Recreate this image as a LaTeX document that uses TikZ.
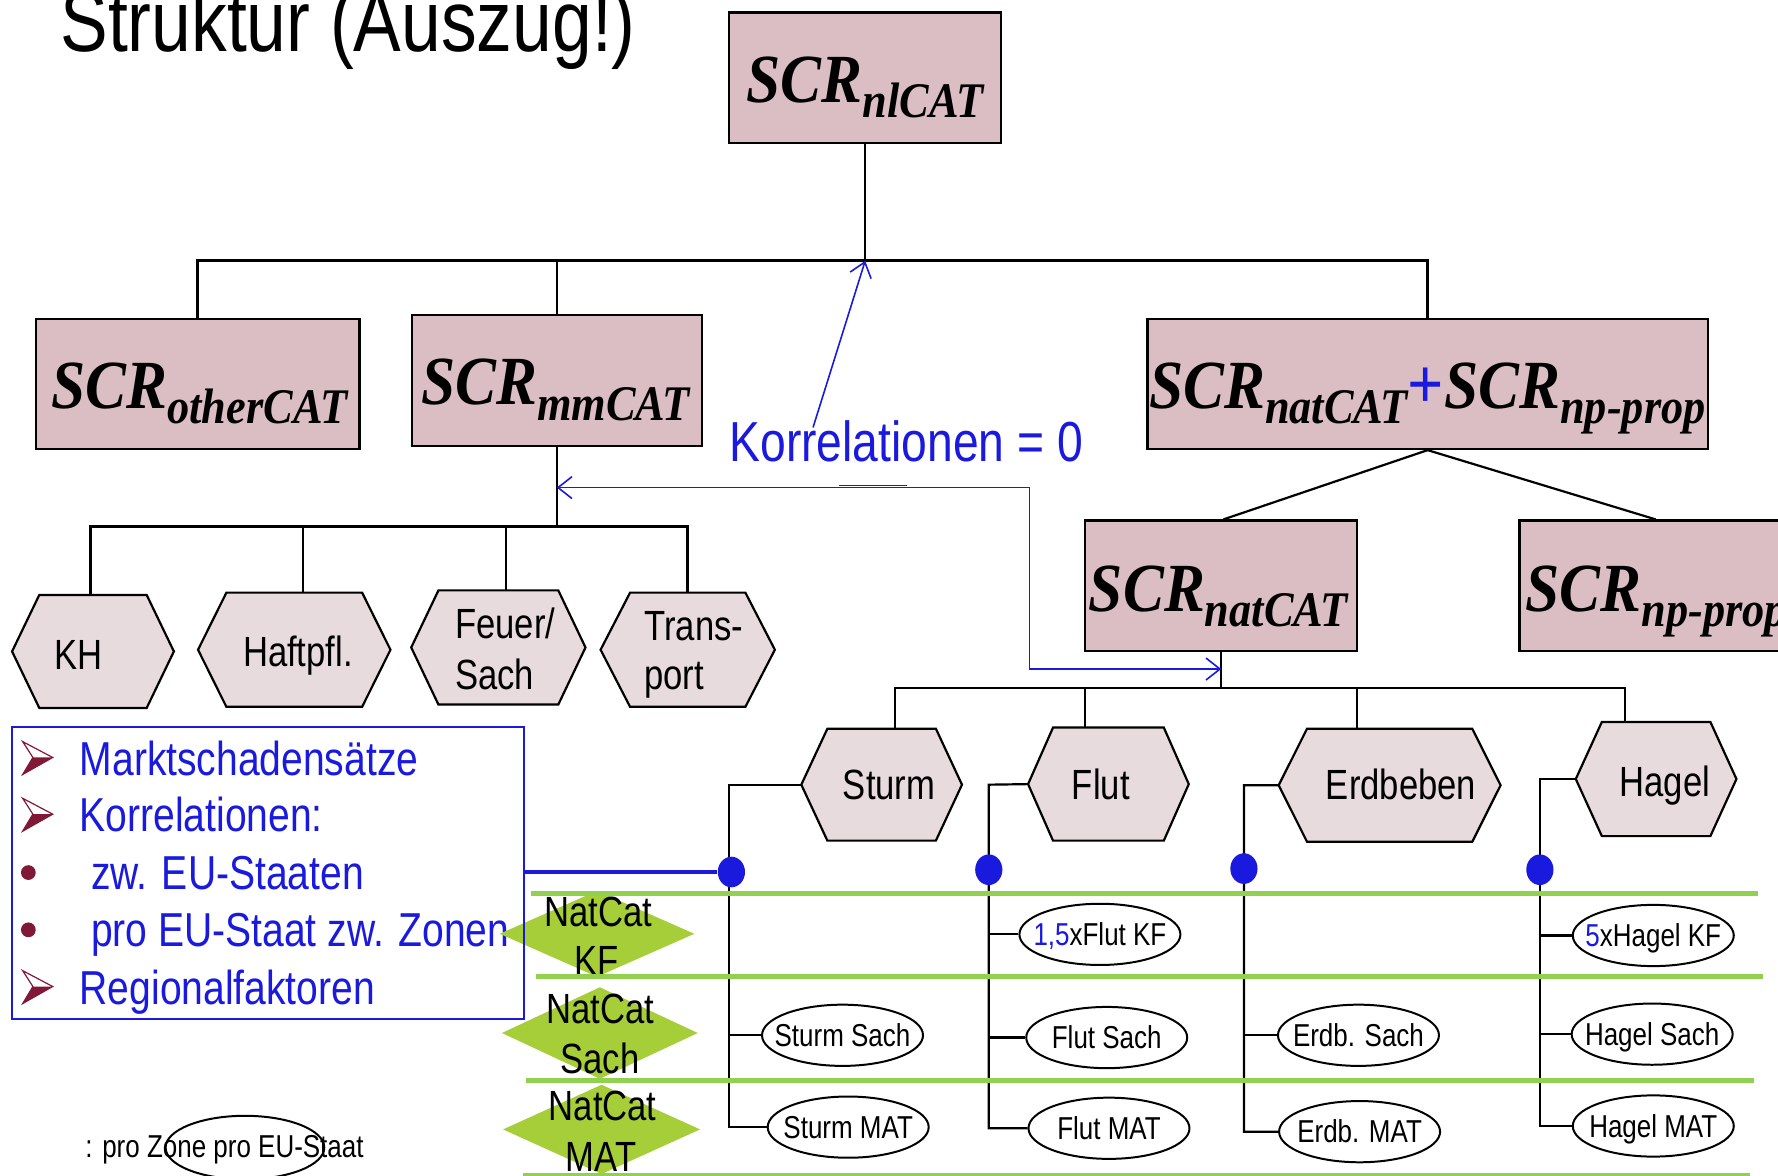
\documentclass[tikz,border=0pt]{standalone}
\usepackage{fontspec}
\setmainfont{Liberation Sans}
\newfontfamily\nar[FakeStretch=0.82]{Liberation Sans}
\newfontfamily\scrf[FakeStretch=0.89]{Liberation Serif}
\usetikzlibrary{arrows.meta,calc,fit,shapes.geometric}

\definecolor{boxfill}{RGB}{219,189,196}
\definecolor{hexfill}{RGB}{232,219,222}
\definecolor{kblue}{RGB}{26,26,222}
\definecolor{lgreen}{RGB}{146,208,80}
\definecolor{dgreen}{RGB}{166,206,57}
\definecolor{bred}{RGB}{128,24,56}

\newcommand\fs[1]{\fontsize{#1}{#1}\selectfont}
% SCR with a lowered subscript
\newcommand\scr[1]{{\scrf\bfseries\itshape\fs{34.6}SCR\fs{25}\raisebox{-7.8pt}{#1}}}
% zero-width text so that an ellipse keeps its set size
\newcommand\zt[1]{\makebox[0pt]{#1}}

% hexagon: name, x1, y1, x2, y2, inset
\newcommand\hexnode[6]{%
  \node[fit={(#2,#3) (#4,#5)}, inner sep=0pt] (#1) {};
  \path[hexline] (#1.west) -- ($(#1.north west)+(#6,0)$) -- ($(#1.north east)+(-#6,0)$)
    -- (#1.east) -- ($(#1.south east)+(-#6,0)$) -- ($(#1.south west)+(#6,0)$) -- cycle;}
% green rhombus: name, x1, y1, x2, y2
\newcommand\rhombnode[5]{%
  \node[fit={(#2,#3) (#4,#5)}, inner sep=0pt] (#1) {};
  \fill[dgreen] (#1.west) -- (#1.north) -- (#1.east) -- (#1.south) -- cycle;}
% three-d arrowhead bullet, top-left corner at (#1,#2)
\newcommand\bularrow[2]{%
  \fill[bred] (#1+9,#2+14) -- (#1+26.5,#2+14) -- (#1,#2+29) -- cycle;
  \draw[bred, line width=0.6pt, line join=miter] (#1,#2) -- (#1+26.5,#2+14) -- (#1,#2+29) -- (#1+9,#2+14) -- cycle;}

\tikzset{
  scrbox/.style={draw=black, line width=1.1pt, fill=boxfill, inner sep=0pt},
  hexline/.style={draw=black, line width=1.1pt, fill=hexfill},
  conn/.style={draw=black, line width=1.1pt},
  bar/.style={draw=black, line width=1.6pt},
  lbl/.style={inner sep=0pt, anchor=base west},
  hextext/.style={font=\nar\fs{21.2}, inner sep=0pt, anchor=base west},
  dtext/.style={font=\nar\fs{21.2}, inner sep=0pt, anchor=base},
  boxtext/.style={font=\nar\fs{23.9}, text=kblue, inner sep=0pt, anchor=base west},
  ell/.style={ellipse, draw, line width=1pt, minimum width=2.84cm, minimum height=1.08cm,
    inner sep=0pt, font=\nar\fs{15.9}, text height=11.3pt, text depth=0pt},
  bdot/.style={ellipse, fill=kblue, minimum width=0.48cm, minimum height=0.54cm, inner sep=0pt},
  gline/.style={draw=lgreen, line width=2.2pt},
  barb/.tip={Straight Barb[length=7pt,width=11pt]},
  korr/.style={draw=kblue, line width=0.8pt},
}

\begin{document}
\begin{tikzpicture}[x=0.02cm, y=-0.02cm]
\useasboundingbox (0,0) rectangle (1568,1037);
\fill[white] (0,0) rectangle (1568,1037);

% title
\node[lbl, font=\nar\fs{43.7}] (title) at (53,45) {Struktur (Auszug!)};

% SCR boxes
\node[scrbox, fit={(643,11) (883,126)}] (nl) {};
\node[scrbox, fit={(32,281) (317,396)}] (other) {};
\node[scrbox, fit={(363,278) (619,393)}] (mm) {};
\node[scrbox, fit={(1012,281) (1506,396)}] (natnp) {};
\node[scrbox, fit={(957,459) (1197,574)}] (natcat) {};
\node[scrbox, fit={(1340,459) (1580,574)}] (npprop) {};

\node[lbl] (nlt) at (658,90) {\scr{nlCAT}};
\node[lbl] (othert) at (45,360) {\scr{otherCAT}};
\node[lbl] (mmt) at (371,357) {\scr{mmCAT}};
\node[lbl] (natnpt) at (1013,360) {\scr{natCAT}{\scrf\bfseries\fs{36}\color{kblue}+}\scr{np-prop}};
\node[lbl] (natcatt) at (960,539) {\scr{natCAT}};
\node[lbl] (nppropt) at (1345,539) {\scr{np-prop}};

% top level tree
\coordinate (j0) at (763,230);
\draw[conn] (nl.south) -- (j0);
\draw[bar] (other.north) |- (j0) -| (natnp.north);
\draw[conn] (mm.north) -- (mm.north |- j0);
\draw[conn] (natnp.south) -- ($(natcat.north)+(2,0)$);
\draw[conn] (natnp.south) -- (npprop.north);

% line-of-business hexagons
\hexnode{kh}{11}{525}{153}{624}{24}
\hexnode{haft}{175}{523}{344}{623}{25}
\hexnode{feuer}{363}{521}{516}{621}{24}
\hexnode{trans}{530}{523}{683}{623}{26}
\node[hextext] (kht) at (48,590) {KH};
\node[hextext] (haftt) at (214,588) {Haftpfl.};
\node[hextext] (feuert1) at (401,563) {Feuer/};
\node[hextext] (feuert2) at (401,608) {Sach};
\node[hextext] (transt1) at (568,565) {Trans-};
\node[hextext] (transt2) at (568,608) {port};

\coordinate (j1) at (491,464);
\draw[conn] (mm.south) -- (j1);
\draw[bar] ($(kh.north)+(-2,0)$) |- (j1) -| (trans.north);
\draw[conn] ($(haft.north)+(7.5,0)$) |- (j1);
\draw[conn] ($(feuer.north)+(6.5,0)$) |- (j1);

% peril hexagons
\hexnode{sturm}{707}{643}{848}{741}{23}
\hexnode{flut}{907}{642}{1048}{741}{22}
\hexnode{erd}{1128}{643}{1323}{742}{25}
\hexnode{hagel}{1390}{637}{1531}{737}{23}
\node[hextext] (sturmt) at (743,705.5) {Sturm};
\node[hextext] (flutt) at (945,705.5) {Flut};
\node[hextext] (erdt) at (1169,705.5) {Erdbeben};
\node[hextext] (hagelt) at (1428,702) {Hagel};

\coordinate (j2) at (1077,607);
\draw[conn] (natcat.south) -- (j2);
\draw[conn] ($(sturm.north)+(11.5,0)$) |- (j2) -| ($(hagel.north)+(-27.5,0)$);
\draw[conn] ($(flut.north)+(-20.5,0)$) |- (j2);
\draw[conn] ($(erd.north)+(-28.5,0)$) |- (j2);

% sub-risk ellipses
\node[ell] (sturmsach) at (743,913) {\zt{Sturm Sach}};
\node[ell] (sturmmat) at (748,994) {\zt{Sturm MAT}};
\node[ell] (flutkf) at (970,824) {\zt{\textcolor{kblue}{1,5}xFlut KF}};
\node[ell] (flutsach) at (976,915) {\zt{Flut Sach}};
\node[ell] (flutmat) at (978,995) {\zt{Flut MAT}};
\node[ell] (erdsach) at (1198,913) {\zt{Erdb. Sach}};
\node[ell] (erdmat) at (1199,998) {\zt{Erdb. MAT}};
\node[ell] (hagelkf) at (1458,825) {\zt{\textcolor{kblue}{5}xHagel KF}};
\node[ell] (hagelsach) at (1457,912) {\zt{Hagel Sach}};
\node[ell] (hagelmat) at (1458,993) {\zt{Hagel MAT}};

\coordinate (sv) at (643,692);
\draw[conn] (sturm.west) -- (sv) |- (sturmmat.west);
\draw[conn] (sv |- sturmsach.west) -- (sturmsach.west);
\coordinate (fv) at (872,692);
\draw[conn] (flut.west) -- (fv) |- (flutmat.west);
\draw[conn] (fv |- flutkf.west) -- (flutkf.west);
\draw[conn] (fv |- flutsach.west) -- (flutsach.west);
\coordinate (ev) at (1097,692.5);
\draw[conn] (erd.west) -- (ev) |- (erdmat.west);
\draw[conn] (ev |- erdsach.west) -- (erdsach.west);
\coordinate (hv) at (1358,687);
\draw[conn] (hagel.west) -- (hv) |- (hagelmat.west);
\draw[conn] (hv |- hagelkf.west) -- (hagelkf.west);
\draw[conn] (hv |- hagelsach.west) -- (hagelsach.west);

% blue text box contents
\bularrow{20}{654}
\bularrow{20}{704}
\bularrow{20}{856}
\node[circle, fill=bred, minimum size=0.26cm, inner sep=0pt] (bul1) at (25,769.5) {};
\node[circle, fill=bred, minimum size=0.26cm, inner sep=0pt] (bul2) at (25,820) {};
\node[boxtext] (b1) at (70,683.5) {Marktschadensätze};
\node[boxtext] (b2) at (70,733.5) {Korrelationen:};
\node[boxtext] (b3) at (80,784) {zw. EU-Staaten};
\node[boxtext] (b4) at (80,835) {pro EU-Staat zw. Zonen};
\node[boxtext] (b5) at (70,885.5) {Regionalfaktoren};

% NatCat rhombi
\rhombnode{dkf}{441}{786}{612}{861}
\rhombnode{dsach}{443}{871}{615}{951}
\rhombnode{dmat}{444}{957}{617}{1035}
\node[dtext] (dkf1) at (527.5,817) {NatCat};
\node[dtext] (dkf2) at (526,860) {KF};
\node[dtext] (dsach1) at (529.5,903) {NatCat};
\node[dtext] (dsach2) at (529,947) {Sach};
\node[dtext] (dmat1) at (531.5,988) {NatCat};
\node[dtext] (dmat2) at (530,1033) {MAT};

% green row separators
\draw[gline] (468,788) -- (1550,788);
\draw[gline] (473,861) -- (1555,861);
\draw[gline] (464,953) -- (1547,953);
\draw[gline] (461,1036) -- (1543,1036);

% blue box frame and its link
\node[draw=kblue, line width=1pt, fit={(11,641) (462,899)}, inner sep=0pt] (bbox) {};
\node[bdot] (d1) at (645,769) {};
\node[bdot] (d2) at (872,767) {};
\node[bdot] (d3) at (1097,766) {};
\node[bdot] (d4) at (1358,767) {};
\draw[kblue, line width=2pt] (bbox.east |- d1) -- (d1);

% correlation annotations
\node[lbl, font=\nar\fs{28.3}, text=kblue] (korrt) at (643,407) {Korrelationen = 0};
\coordinate (kstart) at (717,377);
\draw[korr, -barb] (kstart) -- (j0);
\coordinate (ma) at (491,430);
\coordinate (kb) at (908,430);
\coordinate (na) at (1077,590);
\draw[korr, barb-barb] (ma) -- (kb) |- (na);
\draw[korr] (740,428.3) -- (800,428.3);

% legend
\node[lbl, font=\nar\fs{15.9}] (leg) at (75,1021) {: pro Zone pro EU-Staat};
\node[ellipse, draw, line width=1pt, minimum width=2.8cm, minimum height=1.12cm, inner sep=0pt] (legell) at (216,1012) {};
\end{tikzpicture}
\end{document}
